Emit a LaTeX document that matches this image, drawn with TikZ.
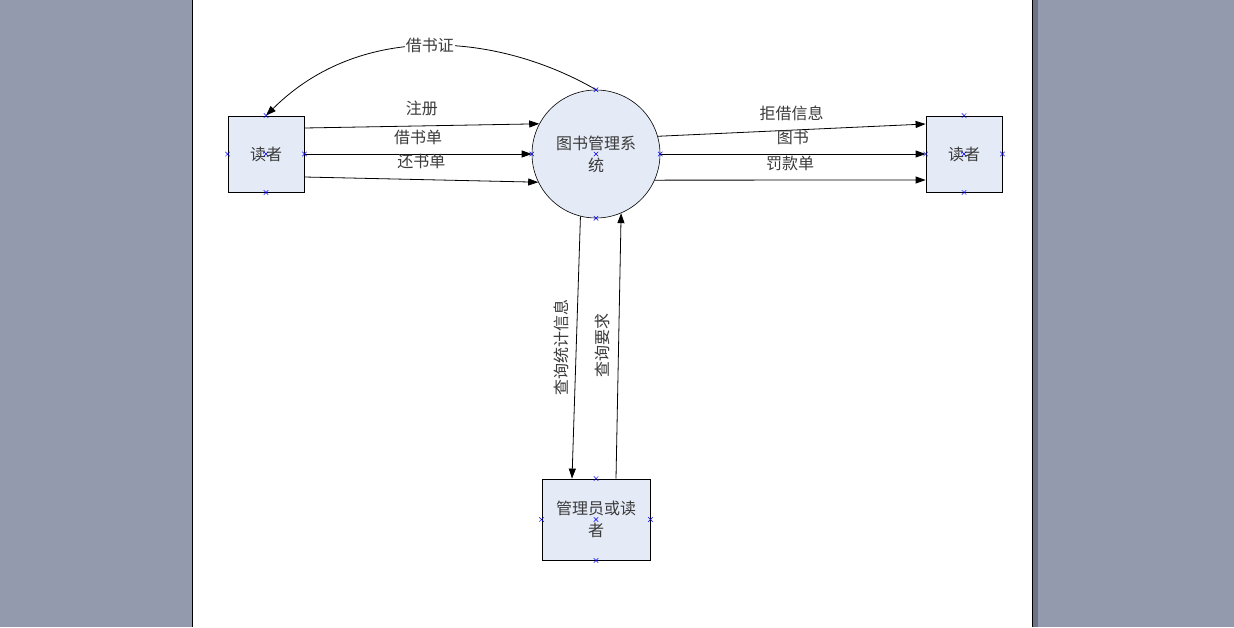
\documentclass[tikz,border=0pt]{standalone}
\usepackage{fontspec}
\newfontfamily\cjk{Noto Sans CJK SC}
\usetikzlibrary{arrows.meta,shapes.misc}

\definecolor{bggray}{HTML}{939AAE}
\definecolor{edgegray}{HTML}{6D7387}
\definecolor{boxfill}{HTML}{E5EBF6}
\definecolor{txtgray}{HTML}{3A3A3A}

\tikzset{
	entity/.style={draw, fill=boxfill, rectangle, line width=0.8pt, inner sep=0pt,
		font=\cjk\fontsize{16}{22}\selectfont, text=txtgray, align=center},
	process/.style={draw, fill=boxfill, circle, minimum size=128pt, inner sep=0pt,
		line width=0.6pt, font=\cjk\fontsize{16}{22}\selectfont, text=txtgray, align=center},
	flow/.style={-{Triangle[length=10pt,width=7pt]}, line width=0.8pt},
	lbl/.style={font=\cjk\fontsize{16}{20}\selectfont, text=txtgray, inner sep=1pt},
	conpt/.style={draw=blue, cross out, minimum size=4pt, inner sep=0pt, line width=0.5pt}
}

\begin{document}
\begin{tikzpicture}[x=1pt,y=-1pt]
	\useasboundingbox (0,0) rectangle (1234,627);

	% page
	\fill[bggray] (0,0) rectangle (1234,627);
	\fill[white] (192,0) rectangle (1032,627);
	\fill[edgegray] (1033,0) rectangle (1038,627);
	\draw[line width=1pt] (192.5,0) -- (192.5,627);
	\draw[line width=1pt] (1032.5,0) -- (1032.5,627);

	% nodes
	\node [name=reader1, entity, minimum width=76pt, minimum height=76pt] at (266,154) {读者};
	\node [name=sys, process] at (596,154) {图书管理系\\统};
	\node [name=reader2, entity, minimum width=76pt, minimum height=76pt] at (964,154) {读者};
	\node [name=admin, entity, minimum width=108pt, minimum height=81pt] at (596,519.5) {管理员或读\\者};

	% reader -> system
	\draw[flow] ([yshift=26pt]reader1.east) -- (sys.152) node[midway, yshift=17pt, lbl] {注册};
	\draw[flow] (reader1.east) -- (sys.west) node[midway, yshift=17pt, lbl] {借书单};
	\draw[flow] ([yshift=-23pt]reader1.east) -- (sys.206) node[midway, yshift=18pt, lbl] {还书单};

	% system -> reader
	\draw[flow] (sys.16) -- ([yshift=30pt]reader2.west) node[midway, yshift=17pt, lbl] {拒借信息};
	\draw[flow] (sys.east) -- (reader2.west) node[midway, yshift=17pt, lbl] {图书};
	\draw[flow] (sys.-24) -- ([yshift=-26pt]reader2.west) node[midway, yshift=17pt, lbl] {罚款单};

	% card
	\draw[flow] (sys.north) .. controls (498,33) and (361,21) .. (reader1.north)
		node[pos=0.5, fill=white, lbl] {借书证};

	% query
	\draw[flow] (sys.-104) -- ([xshift=-24pt]admin.north)
		node[midway, xshift=-15pt, rotate=90, lbl] {查询统计信息};
	\draw[flow] ([xshift=20pt]admin.north) -- (sys.-67)
		node[midway, xshift=-16pt, rotate=90, lbl] {查询要求};

	% connection points
	\foreach \n in {reader1,sys,reader2,admin}
		\foreach \a in {center,north,south,east,west}
			\node[conpt] at (\n.\a) {};

\end{tikzpicture}
\end{document}
